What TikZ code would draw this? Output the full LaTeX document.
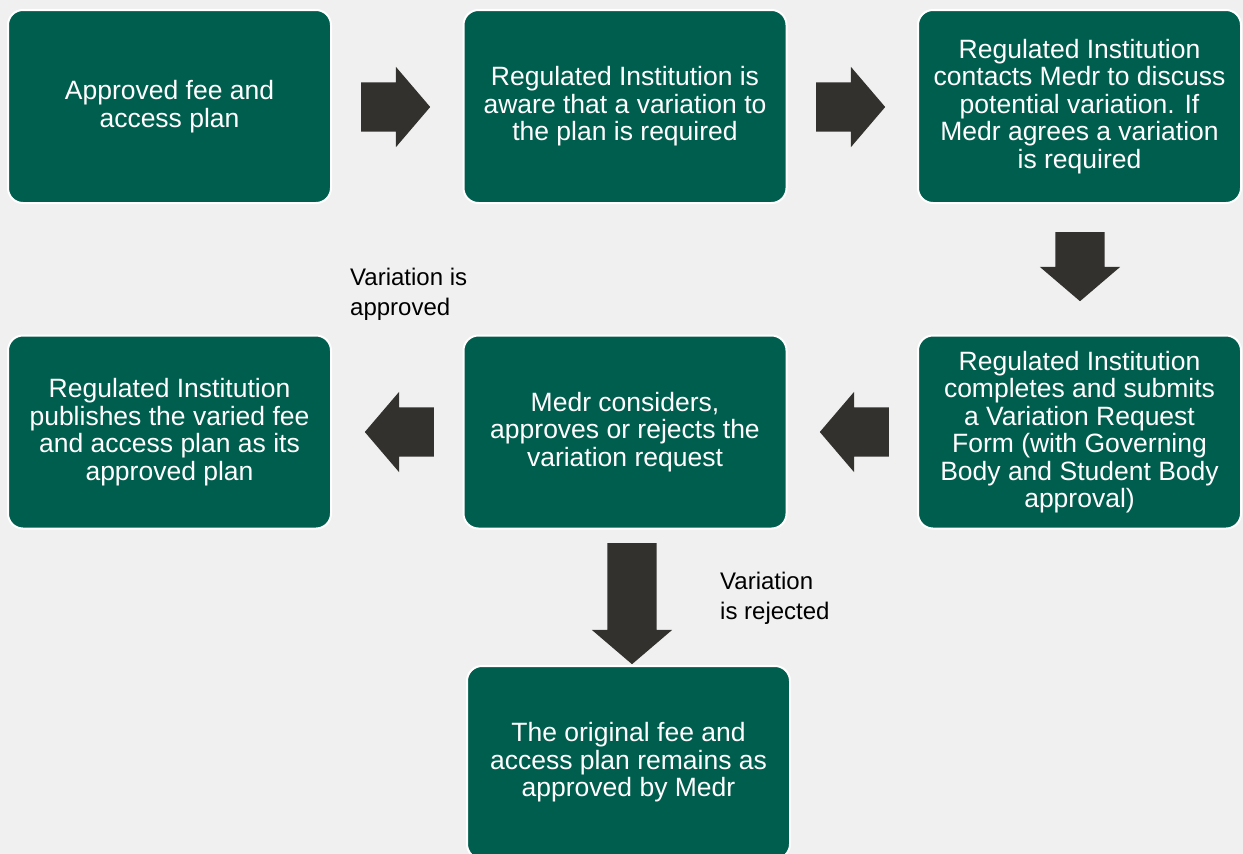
\documentclass[tikz,border=0pt]{standalone}
\usepackage{fontspec}
\setmainfont{Liberation Sans}
\usetikzlibrary{shapes.arrows}

\definecolor{medrgreen}{HTML}{005E4E}
\definecolor{arrowgrey}{HTML}{33312E}
\definecolor{backgrey}{HTML}{F0F0F0}

\tikzset{
  stagebox/.style={rectangle, rounded corners=15pt, fill=medrgreen, draw=white,
    line width=2pt, minimum width=323pt, minimum height=193pt, text=white,
    align=center, font=\fontsize{26.5}{27.5}\selectfont},
  blockarrow/.style={single arrow, fill=arrowgrey, draw=none, inner xsep=0pt,
    inner ysep=24.5pt, single arrow head extend=15.5pt, single arrow tip angle=99,
    anchor=tail},
  note/.style={anchor=north west, inner sep=0pt, align=left,
    font=\fontsize{24}{30}\selectfont}
}

\begin{document}
\begin{tikzpicture}[x=1pt,y=-1pt]
\fill[backgrey] (0,0) rectangle (1243,854);
\useasboundingbox (0,0) rectangle (1243,854);
\clip (0,0) rectangle (1243,854);

% top row
\node[stagebox] (approved) at (169.5,106.5) {Approved fee and\\access plan};
\node[stagebox] (aware) at (625,106.5) {Regulated Institution is\\aware that a variation to\\the plan is required};
\node[stagebox] (contacts) at (1079.5,106.5) {Regulated Institution\\contacts Medr to discuss\\potential variation. If\\Medr agrees a variation\\is required};

% middle row
\node[stagebox] (publishes) at (169.5,432) {Regulated Institution\\publishes the varied fee\\and access plan as its\\approved plan};
\node[stagebox] (considers) at (625,432) {Medr considers,\\approves or rejects the\\variation request};
\node[stagebox] (submits) at (1079.5,432) {Regulated Institution\\completes and submits\\a Variation Request\\Form (with Governing\\Body and Student Body\\approval)};

% bottom
\node[stagebox] (original) at (628.5,762.5) {The original fee and\\access plan remains as\\approved by Medr};

% arrows (placed by their tails)
\node[blockarrow, minimum height=69pt] (a1) at (361,107) {};
\node[blockarrow, minimum height=69pt] (a2) at (816,107) {};
\node[blockarrow, minimum height=69pt, rotate=-90] (a3) at (1080,232) {};
\node[blockarrow, minimum height=69pt, rotate=180] (a4) at (889,432) {};
\node[blockarrow, minimum height=69pt, rotate=180] (a5) at (434,432) {};
\node[blockarrow, minimum height=121pt, rotate=-90] (a6) at (632,543) {};

% labels
\node[note] (approvedlbl) at (350,268) {Variation is\\approved};
\node[note] (rejectedlbl) at (720,572) {Variation\\is rejected};
\end{tikzpicture}
\end{document}
